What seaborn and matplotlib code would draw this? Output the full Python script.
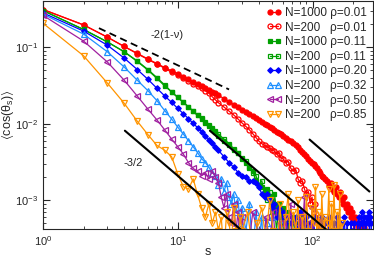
import matplotlib
matplotlib.use("Agg")
import matplotlib.pyplot as plt
import pandas as pd
import seaborn as sns

# lag grids (integer lags s)
S_A = list(range(1, 21)) + list(range(22, 61, 2)) + list(range(63, 121, 3)) + list(range(124, 253, 4))
S_B = list(range(1, 21)) + list(range(22, 61, 2)) + list(range(63, 121, 3)) + [124, 128]
S_C = list(range(1, 21)) + list(range(22, 61, 2)) + list(range(63, 100, 3))
S_D = list(range(1, 21)) + list(range(22, 61, 2)) + list(range(63, 85, 3))
S_E = list(range(1, 21)) + list(range(22, 61, 2)) + list(range(63, 121, 3)) + list(range(124, 277, 4))
S_F = list(range(1, 31)) + list(range(32, 61, 2))
S_G = list(range(1, 31)) + list(range(33, 112, 3))
S_H = list(range(1, 31)) + list(range(33, 172, 3))

# <cos(theta_s)>
N1000_R001 = [0.31, 0.195, 0.135, 0.102, 0.083, 0.070, 0.061, 0.054, 0.049, 0.045,
              0.041, 0.038, 0.035, 0.033, 0.031, 0.029, 0.0275, 0.026, 0.0248, 0.0236,
              0.0212, 0.0194, 0.0178, 0.0164, 0.0152, 0.0142, 0.0133, 0.0125, 0.0118, 0.0111,
              0.0106, 0.0100, 0.0095, 0.0091, 0.0087, 0.0083, 0.0079, 0.0076, 0.0073, 0.0070,
              0.0066, 0.0062, 0.0059, 0.0056, 0.0052, 0.0049, 0.0046, 0.0043, 0.0040, 0.0038,
              0.0035, 0.0033, 0.0031, 0.0030, 0.0028, 0.0026, 0.0024, 0.0023, 0.0021, 0.0020,
              0.0019, 0.0018, 0.0016, 0.0017, 0.0014, 0.0013, 0.0015, 0.0012, 0.0011, 0.0013,
              0.0010, 0.0009, 0.0011, 0.0008, 0.0009, 0.0007, 0.0008, 0.0006, 0.0007, 0.00055,
              0.0003, 0.0006, 0.0005, 0.0002, 0.0005, 0.0004, 0.0001, 0.0005, 0.0003, 0.00045,
              0.0002, 0.0004, 0.0001]
N200_R001 = [0.31, 0.195, 0.135, 0.102, 0.082, 0.069, 0.060, 0.053, 0.047, 0.043,
             0.039, 0.036, 0.033, 0.031, 0.029, 0.027, 0.025, 0.0225, 0.0205, 0.0188,
             0.0165, 0.0146, 0.0130, 0.0115, 0.0102, 0.0092, 0.0083, 0.0074, 0.0066, 0.0059,
             0.0055, 0.0052, 0.0050, 0.0048, 0.0045, 0.0044, 0.0040, 0.0041, 0.0036, 0.0035,
             0.0031, 0.0032, 0.0026, 0.0024, 0.0025, 0.0019, 0.0017, 0.0018, 0.0014, 0.0012,
             0.0013, 0.0009, 0.0011, 0.0007, 0.0009, 0.0004, 0.0006, 0.0003, 0.0005, 0.0002,
             0.0004, 0.0002]
N1000_R011 = [0.30, 0.17, 0.117, 0.087, 0.065, 0.050, 0.039, 0.031, 0.026, 0.022,
              0.019, 0.0165, 0.0145, 0.0128, 0.0115, 0.0103, 0.0093, 0.0085, 0.0077, 0.0070,
              0.0060, 0.0052, 0.0046, 0.0041, 0.0036, 0.0031, 0.0026, 0.0024, 0.0018, 0.0016,
              0.0015, 0.0013, 0.0014, 0.0011, 0.0010, 0.0012, 0.0008, 0.0009, 0.0006, 0.0008,
              0.0003, 0.0007, 0.0002, 0.0006, 0.0003, 0.0005, 0.0001, 0.0006, 0.0002, 0.0005,
              0.0001, 0.0004, 0.0002]
N200_R011 = [0.30, 0.17, 0.117, 0.087, 0.066, 0.051, 0.040, 0.032, 0.026, 0.022,
             0.019, 0.0166, 0.0146, 0.0130, 0.0117, 0.0105, 0.0096, 0.0088, 0.0080, 0.0073,
             0.0063, 0.0055, 0.0047, 0.0042, 0.0035, 0.0033, 0.0027, 0.0023, 0.0021, 0.0016,
             0.0018, 0.0012, 0.0010, 0.0013, 0.0007, 0.0009, 0.0004, 0.0008, 0.0003, 0.0006,
             0.0002, 0.0005, 0.0003, 0.0001, 0.0004, 0.0002, 0.0004, 0.0001]
N1000_R020 = [0.28, 0.162, 0.106, 0.072, 0.051, 0.038, 0.029, 0.023, 0.019, 0.0158,
              0.0135, 0.0116, 0.0101, 0.0089, 0.0079, 0.0070, 0.0062, 0.0056, 0.0050, 0.0045,
              0.0037, 0.0031, 0.0027, 0.0023, 0.0021, 0.0020, 0.0018, 0.0018, 0.0017, 0.0015,
              0.0012, 0.0011, 0.0012, 0.0010, 0.0008, 0.0009, 0.0006, 0.0008, 0.0004, 0.0007,
              0.0003, 0.0006, 0.0005, 0.0002, 0.0006, 0.0004, 0.0007, 0.0002, 0.0005, 0.0006,
              0.0001, 0.0005, 0.0003, 0.0006, 0.0002, 0.0005, 0.0004, 0.0001, 0.0006, 0.0003,
              0.0005, 0.0002, 0.0006, 0.0004, 0.0001, 0.0005, 0.0003, 0.0006, 0.0002, 0.0005,
              0.0001, 0.0004, 0.0006, 0.0002, 0.0005, 0.0003, 0.0001, 0.0005, 0.0004, 0.0002,
              0.0005, 0.0003, 0.0001, 0.0005, 0.0006, 0.0003, 0.0005, 0.0007, 0.0004, 0.0006,
              0.0005, 0.0003, 0.0006, 0.0005, 0.0007, 0.0004, 0.0006, 0.0005, 0.0002]
N200_R032 = [0.27, 0.148, 0.087, 0.055, 0.037, 0.027, 0.020, 0.0148, 0.0115, 0.0090,
             0.0073, 0.0060, 0.0050, 0.0042, 0.0035, 0.0031, 0.0027, 0.0023, 0.0021, 0.0016,
             0.0019, 0.0013, 0.0017, 0.0011, 0.0009, 0.0012, 0.0007, 0.0010, 0.0005, 0.0008,
             0.0004, 0.0009, 0.0002, 0.0007, 0.0003, 0.0006, 0.0001, 0.0005, 0.0002, 0.0006,
             0.0001, 0.0004, 0.0002, 0.0005, 0.0001]
N200_R050 = [0.26, 0.12, 0.064, 0.037, 0.023, 0.0155, 0.0112, 0.0083, 0.0063, 0.0050,
             0.0040, 0.0031, 0.0026, 0.0024, 0.0021, 0.0023, 0.0019, 0.0024, 0.0020, 0.0017,
             0.0011, 0.0008, 0.0012, 0.0006, 0.0005, 0.0009, 0.0004, 0.0007, 0.0003, 0.0006,
             0.0002, 0.0007, 0.0004, 0.0001, 0.0006, 0.0003, 0.0007, 0.0002, 0.0005, 0.0001,
             0.0006, 0.0003, 0.0009, 0.0002, 0.0005, 0.0001, 0.0006, 0.0004, 0.0011, 0.0002,
             0.0005, 0.0001, 0.0008, 0.0003, 0.0002, 0.0005, 0.0001]
N200_R085 = [0.205, 0.077, 0.034, 0.0185, 0.0108, 0.0072, 0.0052, 0.0045, 0.0037, 0.0022,
             0.0015, 0.0014, 0.0019, 0.0012, 0.0008, 0.0006, 0.0009, 0.0005, 0.0007, 0.0004,
             0.0006, 0.0002, 0.0007, 0.0005, 0.0003, 0.0008, 0.0004, 0.0002, 0.0006, 0.0004,
             0.0007, 0.0002, 0.0005, 0.0008, 0.0003, 0.0010, 0.0004, 0.0001, 0.0009, 0.0003,
             0.0006, 0.0012, 0.0002, 0.0007, 0.0004, 0.0010, 0.0001, 0.0006, 0.0003, 0.0011,
             0.0004, 0.0002, 0.0008, 0.0005, 0.0015, 0.0003, 0.0007, 0.0002, 0.0012, 0.0004,
             0.0006, 0.0001, 0.0005, 0.0014, 0.0002, 0.0009, 0.0003, 0.0016, 0.0004, 0.0001,
             0.0007, 0.0003, 0.0012, 0.0002, 0.0005, 0.0001, 0.0003]

LABELS = ["N=1000 ρ=0.01", "N=200   ρ=0.01", "N=1000 ρ=0.11", "N=200   ρ=0.11",
          "N=1000 ρ=0.20", "N=200   ρ=0.32", "N=200   ρ=0.50", "N=200   ρ=0.85"]
COLORS = ["#ff0000", "#ff0000", "#00a000", "#00a000",
          "#0000ff", "#1e90ff", "#a020a0", "#ff9400"]
MARKERS = ["o", "o", "s", "s", "D", "^", "<", "v"]
FILLED = [True, False, True, False, True, False, False, False]

# guide lines (slope reference) end points
DASH_S, DASH_V = [2.6, 24], [0.177, 0.028]
SOLID1_S, SOLID1_V = [4.05, 30], [0.0081, 0.0004]
SOLID2_S, SOLID2_V = [17.3, 125], [0.0081, 0.00042]
SOLID3_S, SOLID3_V = [95, 264], [0.0062, 0.0013]

series = [(S_A, N1000_R001), (S_B, N200_R001), (S_C, N1000_R011), (S_D, N200_R011),
          (S_E, N1000_R020), (S_F, N200_R032), (S_G, N200_R050), (S_H, N200_R085)]
for s, v in series:
    assert len(s) == len(v), (len(s), len(v))

sns.set_style("ticks")
plt.rcParams["font.family"] = ["Liberation Sans", "DejaVu Sans"]
plt.rcParams["mathtext.fontset"] = "custom"
plt.rcParams["mathtext.rm"] = "Liberation Sans"
plt.rcParams["mathtext.it"] = "Liberation Sans:italic"
plt.rcParams["mathtext.fallback"] = "stixsans"

fig = plt.figure(figsize=(3.74, 2.58), dpi=100)
ax = fig.add_axes([0.115, 0.112, 0.882, 0.884])
ax.set_xscale("log")
ax.set_yscale("log")

SIZES = {"o": 3.6, "s": 3.3, "D": 2.8, "^": 3.8, "<": 3.8, "v": 3.8}
for (s, v), lab, col, mk, fill in zip(series, LABELS, COLORS, MARKERS, FILLED):
    df = pd.DataFrame({"s": s, "c": v})
    sns.lineplot(data=df, x="s", y="c", ax=ax, estimator=None, color=col,
                 marker=mk, markersize=SIZES[mk], linewidth=0.9,
                 markerfacecolor=col if fill else "none",
                 markeredgecolor=col, markeredgewidth=0.9, label=lab)

# guide lines
ax.plot(DASH_S, DASH_V, color="black", ls=(0, (4, 2.5)), lw=1.3)
ax.plot(SOLID1_S, SOLID1_V, color="black", lw=1.5)
ax.plot(SOLID2_S, SOLID2_V, color="black", lw=1.5)
ax.plot(SOLID3_S, SOLID3_V, color="black", lw=1.5)
ax.text(8.3, 0.144, "-2(1-ν)", fontsize=8, ha="center", va="center")
ax.text(4.64, 0.0031, "-3/2", fontsize=8, ha="center", va="center")

ax.set_xlim(1, 280)
ax.set_ylim(4.2e-4, 0.4)
ax.set_xlabel("s", fontsize=9, labelpad=-1)
ax.set_ylabel(r"$\langle$cos(θ$_{\rm s}$)$\rangle$", fontsize=9, labelpad=-1)
ax.tick_params(which="both", direction="in", top=True, right=True, labelsize=8)
ax.tick_params(which="major", length=5, width=0.8)
ax.tick_params(which="minor", length=2.5, width=0.6)
for sp in ax.spines.values():
    sp.set_linewidth(0.8)

ax.legend(loc="upper right", frameon=False, fontsize=8.5, numpoints=2,
          handlelength=1.3, handletextpad=0.3, labelspacing=0.22,
          borderaxespad=0.3, borderpad=0.2)

fig.savefig("out.png", dpi=100)
